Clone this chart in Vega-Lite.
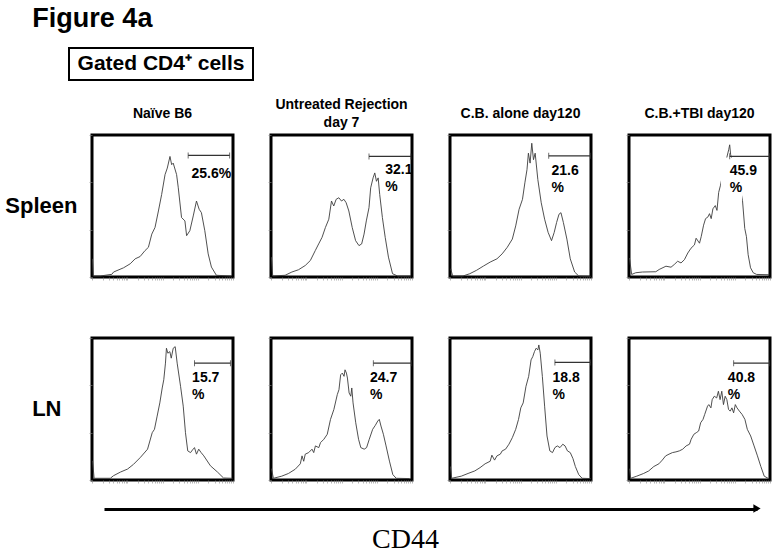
{
  "$schema": "https://vega.github.io/schema/vega-lite/v6.json",
  "background": "white",
  "padding": 5,
  "config": {"view": {"stroke": null}, "font": "Liberation Sans"},
  "title": {"text": "Figure 4a", "anchor": "start", "fontSize": 27, "fontWeight": "bold", "font": "Liberation Sans", "color": "black", "dx": 27, "offset": 14},
  "spacing": 17,
  "vconcat": [
    {"width": 184, "height": 32, "view": {"stroke": "black", "strokeWidth": 2},
     "data": {"values": [{"lab": "Gated CD4⁺ cells"}]},
     "mark": {"type": "text", "fontSize": 21, "fontWeight": "bold", "font": "Liberation Sans", "color": "black"},
     "encoding": {"text": {"field": "lab"}}},
    {
      "spacing": 0,
      "bounds": "flush",
      "hconcat": [
    {"width": 22.5, "height": 1, "data": {"values": [{}]}, "mark": {"type": "text", "text": ""}, "encoding": {}},
    {
      "data": {"values": [
        {"t":"Spleen","g":"Naïve B6","k":"c","x":0.3,"y":12.8},{"t":"Spleen","g":"Naïve B6","k":"c","x":0.9,"y":0.7},{"t":"Spleen","g":"Naïve B6","k":"c","x":5.9,"y":0.7},{"t":"Spleen","g":"Naïve B6","k":"c","x":14.1,"y":1.9},{"t":"Spleen","g":"Naïve B6","k":"c","x":15.3,"y":3.5},{"t":"Spleen","g":"Naïve B6","k":"c","x":22.4,"y":6.5},{"t":"Spleen","g":"Naïve B6","k":"c","x":27.1,"y":9.3},{"t":"Spleen","g":"Naïve B6","k":"c","x":30.6,"y":12.8},{"t":"Spleen","g":"Naïve B6","k":"c","x":34.1,"y":14.4},{"t":"Spleen","g":"Naïve B6","k":"c","x":37.6,"y":18.6},{"t":"Spleen","g":"Naïve B6","k":"c","x":40,"y":20.9},{"t":"Spleen","g":"Naïve B6","k":"c","x":42.4,"y":30.2},{"t":"Spleen","g":"Naïve B6","k":"c","x":44.7,"y":34.9},{"t":"Spleen","g":"Naïve B6","k":"c","x":47.1,"y":46.5},{"t":"Spleen","g":"Naïve B6","k":"c","x":49.4,"y":58.1},{"t":"Spleen","g":"Naïve B6","k":"c","x":51.8,"y":72.1},{"t":"Spleen","g":"Naïve B6","k":"c","x":53.4,"y":76.7},{"t":"Spleen","g":"Naïve B6","k":"c","x":55.3,"y":84.9},{"t":"Spleen","g":"Naïve B6","k":"c","x":56.5,"y":79.1},{"t":"Spleen","g":"Naïve B6","k":"c","x":57.6,"y":80.2},{"t":"Spleen","g":"Naïve B6","k":"c","x":60,"y":72.1},{"t":"Spleen","g":"Naïve B6","k":"c","x":61.2,"y":62.8},{"t":"Spleen","g":"Naïve B6","k":"c","x":63.5,"y":41.9},{"t":"Spleen","g":"Naïve B6","k":"c","x":65.9,"y":39.5},{"t":"Spleen","g":"Naïve B6","k":"c","x":67.1,"y":29.1},{"t":"Spleen","g":"Naïve B6","k":"c","x":69.4,"y":32.6},{"t":"Spleen","g":"Naïve B6","k":"c","x":71.8,"y":43},{"t":"Spleen","g":"Naïve B6","k":"c","x":74.1,"y":53.5},{"t":"Spleen","g":"Naïve B6","k":"c","x":76,"y":47.7},{"t":"Spleen","g":"Naïve B6","k":"c","x":77.6,"y":45.3},{"t":"Spleen","g":"Naïve B6","k":"c","x":80,"y":32.6},{"t":"Spleen","g":"Naïve B6","k":"c","x":82.4,"y":16.3},{"t":"Spleen","g":"Naïve B6","k":"c","x":84.7,"y":7},{"t":"Spleen","g":"Naïve B6","k":"c","x":88.2,"y":1.2},{"t":"Spleen","g":"Naïve B6","k":"c","x":98.8,"y":0.7},
        {"t":"Spleen","g":"Untreated Rejection day 7","k":"c","x":0.3,"y":14},{"t":"Spleen","g":"Untreated Rejection day 7","k":"c","x":1.2,"y":0.7},{"t":"Spleen","g":"Untreated Rejection day 7","k":"c","x":10,"y":1.2},{"t":"Spleen","g":"Untreated Rejection day 7","k":"c","x":14.8,"y":3.5},{"t":"Spleen","g":"Untreated Rejection day 7","k":"c","x":19.5,"y":5.1},{"t":"Spleen","g":"Untreated Rejection day 7","k":"c","x":24.3,"y":8.1},{"t":"Spleen","g":"Untreated Rejection day 7","k":"c","x":27.9,"y":11.6},{"t":"Spleen","g":"Untreated Rejection day 7","k":"c","x":31.4,"y":18.6},{"t":"Spleen","g":"Untreated Rejection day 7","k":"c","x":33.8,"y":23.3},{"t":"Spleen","g":"Untreated Rejection day 7","k":"c","x":36.2,"y":27.9},{"t":"Spleen","g":"Untreated Rejection day 7","k":"c","x":38.6,"y":34.9},{"t":"Spleen","g":"Untreated Rejection day 7","k":"c","x":41,"y":40.7},{"t":"Spleen","g":"Untreated Rejection day 7","k":"c","x":42.9,"y":53.5},{"t":"Spleen","g":"Untreated Rejection day 7","k":"c","x":44.5,"y":50},{"t":"Spleen","g":"Untreated Rejection day 7","k":"c","x":46.2,"y":54.7},{"t":"Spleen","g":"Untreated Rejection day 7","k":"c","x":48.1,"y":55.8},{"t":"Spleen","g":"Untreated Rejection day 7","k":"c","x":50,"y":53.5},{"t":"Spleen","g":"Untreated Rejection day 7","k":"c","x":51.7,"y":54.7},{"t":"Spleen","g":"Untreated Rejection day 7","k":"c","x":53.3,"y":52.3},{"t":"Spleen","g":"Untreated Rejection day 7","k":"c","x":55.2,"y":46.5},{"t":"Spleen","g":"Untreated Rejection day 7","k":"c","x":57.6,"y":34.9},{"t":"Spleen","g":"Untreated Rejection day 7","k":"c","x":60,"y":25.6},{"t":"Spleen","g":"Untreated Rejection day 7","k":"c","x":62.4,"y":22.1},{"t":"Spleen","g":"Untreated Rejection day 7","k":"c","x":64.3,"y":23.3},{"t":"Spleen","g":"Untreated Rejection day 7","k":"c","x":66,"y":30.2},{"t":"Spleen","g":"Untreated Rejection day 7","k":"c","x":67.6,"y":39.5},{"t":"Spleen","g":"Untreated Rejection day 7","k":"c","x":69.5,"y":48.8},{"t":"Spleen","g":"Untreated Rejection day 7","k":"c","x":70.7,"y":62.8},{"t":"Spleen","g":"Untreated Rejection day 7","k":"c","x":72.4,"y":69.8},{"t":"Spleen","g":"Untreated Rejection day 7","k":"c","x":73.6,"y":73.3},{"t":"Spleen","g":"Untreated Rejection day 7","k":"c","x":74.8,"y":67.4},{"t":"Spleen","g":"Untreated Rejection day 7","k":"c","x":76,"y":69.8},{"t":"Spleen","g":"Untreated Rejection day 7","k":"c","x":77.1,"y":58.1},{"t":"Spleen","g":"Untreated Rejection day 7","k":"c","x":79,"y":41.9},{"t":"Spleen","g":"Untreated Rejection day 7","k":"c","x":81,"y":27.9},{"t":"Spleen","g":"Untreated Rejection day 7","k":"c","x":83.3,"y":14},{"t":"Spleen","g":"Untreated Rejection day 7","k":"c","x":86.2,"y":2.3},{"t":"Spleen","g":"Untreated Rejection day 7","k":"c","x":89.8,"y":0.7},{"t":"Spleen","g":"Untreated Rejection day 7","k":"c","x":99.3,"y":0.7},
        {"t":"Spleen","g":"C.B. alone day120","k":"c","x":0.5,"y":5.8},{"t":"Spleen","g":"C.B. alone day120","k":"c","x":1.9,"y":0.7},{"t":"Spleen","g":"C.B. alone day120","k":"c","x":9.2,"y":0.7},{"t":"Spleen","g":"C.B. alone day120","k":"c","x":14,"y":2.3},{"t":"Spleen","g":"C.B. alone day120","k":"c","x":18.8,"y":4.7},{"t":"Spleen","g":"C.B. alone day120","k":"c","x":23.7,"y":7.7},{"t":"Spleen","g":"C.B. alone day120","k":"c","x":28.5,"y":10.5},{"t":"Spleen","g":"C.B. alone day120","k":"c","x":33.3,"y":12.8},{"t":"Spleen","g":"C.B. alone day120","k":"c","x":37,"y":16.3},{"t":"Spleen","g":"C.B. alone day120","k":"c","x":40.6,"y":20.9},{"t":"Spleen","g":"C.B. alone day120","k":"c","x":44.2,"y":26.7},{"t":"Spleen","g":"C.B. alone day120","k":"c","x":46.6,"y":36},{"t":"Spleen","g":"C.B. alone day120","k":"c","x":49,"y":47.7},{"t":"Spleen","g":"C.B. alone day120","k":"c","x":51.4,"y":54.7},{"t":"Spleen","g":"C.B. alone day120","k":"c","x":53.1,"y":66.3},{"t":"Spleen","g":"C.B. alone day120","k":"c","x":54.6,"y":75.6},{"t":"Spleen","g":"C.B. alone day120","k":"c","x":55.6,"y":87.2},{"t":"Spleen","g":"C.B. alone day120","k":"c","x":56.8,"y":80.2},{"t":"Spleen","g":"C.B. alone day120","k":"c","x":58,"y":94.2},{"t":"Spleen","g":"C.B. alone day120","k":"c","x":59.2,"y":82.6},{"t":"Spleen","g":"C.B. alone day120","k":"c","x":60.4,"y":87.2},{"t":"Spleen","g":"C.B. alone day120","k":"c","x":62.3,"y":68.6},{"t":"Spleen","g":"C.B. alone day120","k":"c","x":64.7,"y":52.3},{"t":"Spleen","g":"C.B. alone day120","k":"c","x":67.1,"y":40.7},{"t":"Spleen","g":"C.B. alone day120","k":"c","x":69.6,"y":31.4},{"t":"Spleen","g":"C.B. alone day120","k":"c","x":72,"y":25.6},{"t":"Spleen","g":"C.B. alone day120","k":"c","x":73.9,"y":31.4},{"t":"Spleen","g":"C.B. alone day120","k":"c","x":75.6,"y":38.4},{"t":"Spleen","g":"C.B. alone day120","k":"c","x":77.3,"y":44.2},{"t":"Spleen","g":"C.B. alone day120","k":"c","x":78.7,"y":45.3},{"t":"Spleen","g":"C.B. alone day120","k":"c","x":80.4,"y":38.4},{"t":"Spleen","g":"C.B. alone day120","k":"c","x":82.9,"y":26.7},{"t":"Spleen","g":"C.B. alone day120","k":"c","x":85.3,"y":12.8},{"t":"Spleen","g":"C.B. alone day120","k":"c","x":88.4,"y":3.5},{"t":"Spleen","g":"C.B. alone day120","k":"c","x":91.3,"y":0.7},{"t":"Spleen","g":"C.B. alone day120","k":"c","x":99.8,"y":0.5},
        {"t":"Spleen","g":"C.B.+TBI day120","k":"c","x":0.3,"y":13.4},{"t":"Spleen","g":"C.B.+TBI day120","k":"c","x":1.9,"y":1.8},{"t":"Spleen","g":"C.B.+TBI day120","k":"c","x":4.8,"y":3},{"t":"Spleen","g":"C.B.+TBI day120","k":"c","x":9.5,"y":3.5},{"t":"Spleen","g":"C.B.+TBI day120","k":"c","x":19,"y":3.7},{"t":"Spleen","g":"C.B.+TBI day120","k":"c","x":21.4,"y":5.3},{"t":"Spleen","g":"C.B.+TBI day120","k":"c","x":26.2,"y":7.6},{"t":"Spleen","g":"C.B.+TBI day120","k":"c","x":29.8,"y":6.9},{"t":"Spleen","g":"C.B.+TBI day120","k":"c","x":32.1,"y":8.8},{"t":"Spleen","g":"C.B.+TBI day120","k":"c","x":34.5,"y":11.1},{"t":"Spleen","g":"C.B.+TBI day120","k":"c","x":36.9,"y":9.9},{"t":"Spleen","g":"C.B.+TBI day120","k":"c","x":39.3,"y":12.2},{"t":"Spleen","g":"C.B.+TBI day120","k":"c","x":41.7,"y":16.9},{"t":"Spleen","g":"C.B.+TBI day120","k":"c","x":44,"y":20.3},{"t":"Spleen","g":"C.B.+TBI day120","k":"c","x":46.4,"y":22.6},{"t":"Spleen","g":"C.B.+TBI day120","k":"c","x":47.6,"y":27.3},{"t":"Spleen","g":"C.B.+TBI day120","k":"c","x":50,"y":23.8},{"t":"Spleen","g":"C.B.+TBI day120","k":"c","x":51.2,"y":28.4},{"t":"Spleen","g":"C.B.+TBI day120","k":"c","x":52.9,"y":36.5},{"t":"Spleen","g":"C.B.+TBI day120","k":"c","x":54.3,"y":41.1},{"t":"Spleen","g":"C.B.+TBI day120","k":"c","x":56,"y":42.3},{"t":"Spleen","g":"C.B.+TBI day120","k":"c","x":57.1,"y":44.6},{"t":"Spleen","g":"C.B.+TBI day120","k":"c","x":58.3,"y":41.1},{"t":"Spleen","g":"C.B.+TBI day120","k":"c","x":59.5,"y":48},{"t":"Spleen","g":"C.B.+TBI day120","k":"c","x":61.2,"y":50.3},{"t":"Spleen","g":"C.B.+TBI day120","k":"c","x":62.4,"y":46.9},{"t":"Spleen","g":"C.B.+TBI day120","k":"c","x":63.6,"y":59.6},{"t":"Spleen","g":"C.B.+TBI day120","k":"c","x":64.8,"y":64.2},{"t":"Spleen","g":"C.B.+TBI day120","k":"c","x":66.7,"y":73.4},{"t":"Spleen","g":"C.B.+TBI day120","k":"c","x":69,"y":82.7},{"t":"Spleen","g":"C.B.+TBI day120","k":"c","x":70.7,"y":89.6},{"t":"Spleen","g":"C.B.+TBI day120","k":"c","x":71.4,"y":93.1},{"t":"Spleen","g":"C.B.+TBI day120","k":"c","x":72.1,"y":86.1},{"t":"Spleen","g":"C.B.+TBI day120","k":"c","x":73.8,"y":80.4},{"t":"Spleen","g":"C.B.+TBI day120","k":"c","x":76.2,"y":73.4},{"t":"Spleen","g":"C.B.+TBI day120","k":"c","x":78.6,"y":64.2},{"t":"Spleen","g":"C.B.+TBI day120","k":"c","x":80.5,"y":53.8},{"t":"Spleen","g":"C.B.+TBI day120","k":"c","x":82.1,"y":34.2},{"t":"Spleen","g":"C.B.+TBI day120","k":"c","x":83.3,"y":28.4},{"t":"Spleen","g":"C.B.+TBI day120","k":"c","x":84.5,"y":15.7},{"t":"Spleen","g":"C.B.+TBI day120","k":"c","x":86.2,"y":6.5},{"t":"Spleen","g":"C.B.+TBI day120","k":"c","x":88.1,"y":3},{"t":"Spleen","g":"C.B.+TBI day120","k":"c","x":90.5,"y":1.8},{"t":"Spleen","g":"C.B.+TBI day120","k":"c","x":99.5,"y":1.6},
        {"t":"LN","g":"Naïve B6","k":"c","x":0.4,"y":13.5},{"t":"LN","g":"Naïve B6","k":"c","x":1.5,"y":1.2},{"t":"LN","g":"Naïve B6","k":"c","x":13,"y":1.2},{"t":"LN","g":"Naïve B6","k":"c","x":15.2,"y":3},{"t":"LN","g":"Naïve B6","k":"c","x":20.2,"y":5.6},{"t":"LN","g":"Naïve B6","k":"c","x":25.2,"y":7.7},{"t":"LN","g":"Naïve B6","k":"c","x":29.4,"y":11},{"t":"LN","g":"Naïve B6","k":"c","x":34.4,"y":16},{"t":"LN","g":"Naïve B6","k":"c","x":39.4,"y":21.7},{"t":"LN","g":"Naïve B6","k":"c","x":42.7,"y":33.3},{"t":"LN","g":"Naïve B6","k":"c","x":44.3,"y":35.7},{"t":"LN","g":"Naïve B6","k":"c","x":46.2,"y":45},{"t":"LN","g":"Naïve B6","k":"c","x":48.1,"y":54.3},{"t":"LN","g":"Naïve B6","k":"c","x":49.8,"y":64.8},{"t":"LN","g":"Naïve B6","k":"c","x":50.9,"y":70.6},{"t":"LN","g":"Naïve B6","k":"c","x":52.1,"y":82.3},{"t":"LN","g":"Naïve B6","k":"c","x":52.8,"y":92.8},{"t":"LN","g":"Naïve B6","k":"c","x":53.8,"y":89.3},{"t":"LN","g":"Naïve B6","k":"c","x":55.2,"y":90.4},{"t":"LN","g":"Naïve B6","k":"c","x":56.2,"y":85.8},{"t":"LN","g":"Naïve B6","k":"c","x":57.6,"y":92.8},{"t":"LN","g":"Naïve B6","k":"c","x":59,"y":93.9},{"t":"LN","g":"Naïve B6","k":"c","x":60.4,"y":82.3},{"t":"LN","g":"Naïve B6","k":"c","x":62.8,"y":66},{"t":"LN","g":"Naïve B6","k":"c","x":64.7,"y":52},{"t":"LN","g":"Naïve B6","k":"c","x":66.3,"y":33.3},{"t":"LN","g":"Naïve B6","k":"c","x":67.9,"y":20.5},{"t":"LN","g":"Naïve B6","k":"c","x":69.9,"y":19.3},{"t":"LN","g":"Naïve B6","k":"c","x":71.3,"y":21.2},{"t":"LN","g":"Naïve B6","k":"c","x":72.7,"y":22.8},{"t":"LN","g":"Naïve B6","k":"c","x":74.1,"y":18.2},{"t":"LN","g":"Naïve B6","k":"c","x":75.7,"y":21.7},{"t":"LN","g":"Naïve B6","k":"c","x":77.4,"y":19.3},{"t":"LN","g":"Naïve B6","k":"c","x":79.3,"y":17},{"t":"LN","g":"Naïve B6","k":"c","x":84,"y":10},{"t":"LN","g":"Naïve B6","k":"c","x":89,"y":5.6},{"t":"LN","g":"Naïve B6","k":"c","x":93.3,"y":1.4},{"t":"LN","g":"Naïve B6","k":"c","x":99.6,"y":1.2},
        {"t":"LN","g":"Untreated Rejection day 7","k":"c","x":0.3,"y":8},{"t":"LN","g":"Untreated Rejection day 7","k":"c","x":1.7,"y":1.2},{"t":"LN","g":"Untreated Rejection day 7","k":"c","x":7.6,"y":2.7},{"t":"LN","g":"Untreated Rejection day 7","k":"c","x":12.4,"y":4.6},{"t":"LN","g":"Untreated Rejection day 7","k":"c","x":17.2,"y":7.6},{"t":"LN","g":"Untreated Rejection day 7","k":"c","x":20.8,"y":11.4},{"t":"LN","g":"Untreated Rejection day 7","k":"c","x":22,"y":17},{"t":"LN","g":"Untreated Rejection day 7","k":"c","x":23.2,"y":13.2},{"t":"LN","g":"Untreated Rejection day 7","k":"c","x":24.3,"y":18.2},{"t":"LN","g":"Untreated Rejection day 7","k":"c","x":26.7,"y":19.3},{"t":"LN","g":"Untreated Rejection day 7","k":"c","x":29.1,"y":21.7},{"t":"LN","g":"Untreated Rejection day 7","k":"c","x":30.3,"y":19.3},{"t":"LN","g":"Untreated Rejection day 7","k":"c","x":31.5,"y":24},{"t":"LN","g":"Untreated Rejection day 7","k":"c","x":33.9,"y":22.8},{"t":"LN","g":"Untreated Rejection day 7","k":"c","x":35.1,"y":26.3},{"t":"LN","g":"Untreated Rejection day 7","k":"c","x":37.5,"y":28.7},{"t":"LN","g":"Untreated Rejection day 7","k":"c","x":39.9,"y":32.2},{"t":"LN","g":"Untreated Rejection day 7","k":"c","x":42.2,"y":42.7},{"t":"LN","g":"Untreated Rejection day 7","k":"c","x":44.6,"y":49.7},{"t":"LN","g":"Untreated Rejection day 7","k":"c","x":47,"y":60.1},{"t":"LN","g":"Untreated Rejection day 7","k":"c","x":48.2,"y":63.6},{"t":"LN","g":"Untreated Rejection day 7","k":"c","x":49.4,"y":74.1},{"t":"LN","g":"Untreated Rejection day 7","k":"c","x":50.6,"y":75.3},{"t":"LN","g":"Untreated Rejection day 7","k":"c","x":51.8,"y":73},{"t":"LN","g":"Untreated Rejection day 7","k":"c","x":52.5,"y":77.6},{"t":"LN","g":"Untreated Rejection day 7","k":"c","x":53.5,"y":75.3},{"t":"LN","g":"Untreated Rejection day 7","k":"c","x":54.2,"y":71.8},{"t":"LN","g":"Untreated Rejection day 7","k":"c","x":55.4,"y":61.3},{"t":"LN","g":"Untreated Rejection day 7","k":"c","x":56.6,"y":59},{"t":"LN","g":"Untreated Rejection day 7","k":"c","x":57.3,"y":64.8},{"t":"LN","g":"Untreated Rejection day 7","k":"c","x":58.2,"y":54.3},{"t":"LN","g":"Untreated Rejection day 7","k":"c","x":60.1,"y":40.3},{"t":"LN","g":"Untreated Rejection day 7","k":"c","x":62.1,"y":28.7},{"t":"LN","g":"Untreated Rejection day 7","k":"c","x":63.7,"y":22.8},{"t":"LN","g":"Untreated Rejection day 7","k":"c","x":66.1,"y":21.7},{"t":"LN","g":"Untreated Rejection day 7","k":"c","x":67.8,"y":22.8},{"t":"LN","g":"Untreated Rejection day 7","k":"c","x":69.7,"y":28.7},{"t":"LN","g":"Untreated Rejection day 7","k":"c","x":72.1,"y":35.7},{"t":"LN","g":"Untreated Rejection day 7","k":"c","x":74,"y":38.5},{"t":"LN","g":"Untreated Rejection day 7","k":"c","x":75.7,"y":41.5},{"t":"LN","g":"Untreated Rejection day 7","k":"c","x":76.8,"y":42.7},{"t":"LN","g":"Untreated Rejection day 7","k":"c","x":78,"y":38},{"t":"LN","g":"Untreated Rejection day 7","k":"c","x":79.7,"y":32.2},{"t":"LN","g":"Untreated Rejection day 7","k":"c","x":81.6,"y":24},{"t":"LN","g":"Untreated Rejection day 7","k":"c","x":84,"y":13.3},{"t":"LN","g":"Untreated Rejection day 7","k":"c","x":86.4,"y":3.8},{"t":"LN","g":"Untreated Rejection day 7","k":"c","x":88.8,"y":1.2},{"t":"LN","g":"Untreated Rejection day 7","k":"c","x":98.3,"y":1},
        {"t":"LN","g":"C.B. alone day120","k":"c","x":0.3,"y":9.5},{"t":"LN","g":"C.B. alone day120","k":"c","x":1.2,"y":1.2},{"t":"LN","g":"C.B. alone day120","k":"c","x":8,"y":2.7},{"t":"LN","g":"C.B. alone day120","k":"c","x":12.8,"y":4.6},{"t":"LN","g":"C.B. alone day120","k":"c","x":17.6,"y":6.4},{"t":"LN","g":"C.B. alone day120","k":"c","x":21.3,"y":8.7},{"t":"LN","g":"C.B. alone day120","k":"c","x":24.9,"y":11.4},{"t":"LN","g":"C.B. alone day120","k":"c","x":28.5,"y":13.2},{"t":"LN","g":"C.B. alone day120","k":"c","x":29.7,"y":17.5},{"t":"LN","g":"C.B. alone day120","k":"c","x":31.6,"y":14},{"t":"LN","g":"C.B. alone day120","k":"c","x":33.3,"y":17},{"t":"LN","g":"C.B. alone day120","k":"c","x":35.7,"y":18.2},{"t":"LN","g":"C.B. alone day120","k":"c","x":37,"y":20.5},{"t":"LN","g":"C.B. alone day120","k":"c","x":39.4,"y":21.7},{"t":"LN","g":"C.B. alone day120","k":"c","x":41.8,"y":25.2},{"t":"LN","g":"C.B. alone day120","k":"c","x":44.2,"y":29.8},{"t":"LN","g":"C.B. alone day120","k":"c","x":46.6,"y":35.7},{"t":"LN","g":"C.B. alone day120","k":"c","x":48.6,"y":42.7},{"t":"LN","g":"C.B. alone day120","k":"c","x":50.2,"y":50.8},{"t":"LN","g":"C.B. alone day120","k":"c","x":51.9,"y":54.3},{"t":"LN","g":"C.B. alone day120","k":"c","x":53.9,"y":66},{"t":"LN","g":"C.B. alone day120","k":"c","x":55.8,"y":73},{"t":"LN","g":"C.B. alone day120","k":"c","x":57.5,"y":84.6},{"t":"LN","g":"C.B. alone day120","k":"c","x":58.7,"y":86.9},{"t":"LN","g":"C.B. alone day120","k":"c","x":59.9,"y":90.4},{"t":"LN","g":"C.B. alone day120","k":"c","x":61.1,"y":92.8},{"t":"LN","g":"C.B. alone day120","k":"c","x":62.3,"y":91.6},{"t":"LN","g":"C.B. alone day120","k":"c","x":63,"y":95.1},{"t":"LN","g":"C.B. alone day120","k":"c","x":64,"y":89.3},{"t":"LN","g":"C.B. alone day120","k":"c","x":65.5,"y":73},{"t":"LN","g":"C.B. alone day120","k":"c","x":67.1,"y":52},{"t":"LN","g":"C.B. alone day120","k":"c","x":68.8,"y":31},{"t":"LN","g":"C.B. alone day120","k":"c","x":70.8,"y":20.5},{"t":"LN","g":"C.B. alone day120","k":"c","x":72.7,"y":19.3},{"t":"LN","g":"C.B. alone day120","k":"c","x":74.4,"y":22.8},{"t":"LN","g":"C.B. alone day120","k":"c","x":76.1,"y":24},{"t":"LN","g":"C.B. alone day120","k":"c","x":78,"y":22.8},{"t":"LN","g":"C.B. alone day120","k":"c","x":80,"y":25.2},{"t":"LN","g":"C.B. alone day120","k":"c","x":81.6,"y":24},{"t":"LN","g":"C.B. alone day120","k":"c","x":83.3,"y":20.5},{"t":"LN","g":"C.B. alone day120","k":"c","x":85.3,"y":19.3},{"t":"LN","g":"C.B. alone day120","k":"c","x":87.2,"y":15.1},{"t":"LN","g":"C.B. alone day120","k":"c","x":88.9,"y":9.5},{"t":"LN","g":"C.B. alone day120","k":"c","x":91.3,"y":3.8},{"t":"LN","g":"C.B. alone day120","k":"c","x":93.7,"y":1.2},{"t":"LN","g":"C.B. alone day120","k":"c","x":99.8,"y":1},
        {"t":"LN","g":"C.B.+TBI day120","k":"c","x":0.3,"y":8},{"t":"LN","g":"C.B.+TBI day120","k":"c","x":1.2,"y":1.2},{"t":"LN","g":"C.B.+TBI day120","k":"c","x":5.5,"y":2.7},{"t":"LN","g":"C.B.+TBI day120","k":"c","x":10.4,"y":4.6},{"t":"LN","g":"C.B.+TBI day120","k":"c","x":14,"y":6.4},{"t":"LN","g":"C.B.+TBI day120","k":"c","x":17.6,"y":9.5},{"t":"LN","g":"C.B.+TBI day120","k":"c","x":21.2,"y":11.4},{"t":"LN","g":"C.B.+TBI day120","k":"c","x":23.6,"y":14},{"t":"LN","g":"C.B.+TBI day120","k":"c","x":26,"y":17},{"t":"LN","g":"C.B.+TBI day120","k":"c","x":28.4,"y":18.2},{"t":"LN","g":"C.B.+TBI day120","k":"c","x":30.8,"y":19.3},{"t":"LN","g":"C.B.+TBI day120","k":"c","x":33.3,"y":19.8},{"t":"LN","g":"C.B.+TBI day120","k":"c","x":35.7,"y":20.5},{"t":"LN","g":"C.B.+TBI day120","k":"c","x":38.1,"y":21.7},{"t":"LN","g":"C.B.+TBI day120","k":"c","x":40.5,"y":24},{"t":"LN","g":"C.B.+TBI day120","k":"c","x":42.9,"y":25.2},{"t":"LN","g":"C.B.+TBI day120","k":"c","x":44.1,"y":28.7},{"t":"LN","g":"C.B.+TBI day120","k":"c","x":46,"y":32.2},{"t":"LN","g":"C.B.+TBI day120","k":"c","x":47.7,"y":33.3},{"t":"LN","g":"C.B.+TBI day120","k":"c","x":49.4,"y":34.5},{"t":"LN","g":"C.B.+TBI day120","k":"c","x":50.8,"y":40.3},{"t":"LN","g":"C.B.+TBI day120","k":"c","x":52.5,"y":42.7},{"t":"LN","g":"C.B.+TBI day120","k":"c","x":53.7,"y":46.2},{"t":"LN","g":"C.B.+TBI day120","k":"c","x":55.7,"y":52},{"t":"LN","g":"C.B.+TBI day120","k":"c","x":56.6,"y":53.1},{"t":"LN","g":"C.B.+TBI day120","k":"c","x":58.1,"y":50.8},{"t":"LN","g":"C.B.+TBI day120","k":"c","x":59,"y":56.6},{"t":"LN","g":"C.B.+TBI day120","k":"c","x":60.5,"y":59},{"t":"LN","g":"C.B.+TBI day120","k":"c","x":62.2,"y":57.8},{"t":"LN","g":"C.B.+TBI day120","k":"c","x":63.4,"y":62.5},{"t":"LN","g":"C.B.+TBI day120","k":"c","x":64.6,"y":56.6},{"t":"LN","g":"C.B.+TBI day120","k":"c","x":65.8,"y":62.5},{"t":"LN","g":"C.B.+TBI day120","k":"c","x":67,"y":53.1},{"t":"LN","g":"C.B.+TBI day120","k":"c","x":68.2,"y":59},{"t":"LN","g":"C.B.+TBI day120","k":"c","x":69.4,"y":56.6},{"t":"LN","g":"C.B.+TBI day120","k":"c","x":70.6,"y":49.7},{"t":"LN","g":"C.B.+TBI day120","k":"c","x":71.8,"y":48.5},{"t":"LN","g":"C.B.+TBI day120","k":"c","x":73,"y":50.8},{"t":"LN","g":"C.B.+TBI day120","k":"c","x":74.2,"y":47.3},{"t":"LN","g":"C.B.+TBI day120","k":"c","x":75.4,"y":53.1},{"t":"LN","g":"C.B.+TBI day120","k":"c","x":76.6,"y":50.8},{"t":"LN","g":"C.B.+TBI day120","k":"c","x":78.3,"y":48.5},{"t":"LN","g":"C.B.+TBI day120","k":"c","x":80.2,"y":46.2},{"t":"LN","g":"C.B.+TBI day120","k":"c","x":82.2,"y":42.7},{"t":"LN","g":"C.B.+TBI day120","k":"c","x":83.9,"y":35.7},{"t":"LN","g":"C.B.+TBI day120","k":"c","x":86.3,"y":31},{"t":"LN","g":"C.B.+TBI day120","k":"c","x":88.7,"y":24},{"t":"LN","g":"C.B.+TBI day120","k":"c","x":91.1,"y":17},{"t":"LN","g":"C.B.+TBI day120","k":"c","x":93.5,"y":9.5},{"t":"LN","g":"C.B.+TBI day120","k":"c","x":95.9,"y":2.7},{"t":"LN","g":"C.B.+TBI day120","k":"c","x":99,"y":1},
        {"t":"Spleen","g":"C.B.+TBI day120","k":"m","mx0":65.2,"mx1":80.2,"my0":54,"my1":84.2},
        {"t":"Spleen","g":"Naïve B6","k":"g","g0":68.2,"g1":97.6,"gy":85.6,"lx":70.6,"ly":77.8,"lab":"25.6%"},
        {"t":"Spleen","g":"Untreated Rejection day 7","k":"g","g0":69.5,"g1":99.3,"gy":84.9,"lx":81,"ly":80.5,"lab":"32.1\n%"},
        {"t":"Spleen","g":"C.B. alone day120","k":"g","g0":70,"g1":99.6,"gy":85.3,"lx":72,"ly":79.4,"lab":"21.6\n%"},
        {"t":"Spleen","g":"C.B.+TBI day120","k":"g","g0":71.4,"g1":99.5,"gy":85,"lx":71.4,"ly":79.5,"lab":"45.9\n%"},
        {"t":"LN","g":"Naïve B6","k":"g","g0":72.7,"g1":98.2,"gy":82.3,"lx":71,"ly":76.8,"lab":"15.7\n%"},
        {"t":"LN","g":"Untreated Rejection day 7","k":"g","g0":72.6,"g1":99.5,"gy":82.3,"lx":70.2,"ly":76.8,"lab":"24.7\n%"},
        {"t":"LN","g":"C.B. alone day120","k":"g","g0":74.4,"g1":99.7,"gy":82.8,"lx":72.7,"ly":76.8,"lab":"18.8\n%"},
        {"t":"LN","g":"C.B.+TBI day120","k":"g","g0":74.2,"g1":99.7,"gy":82.3,"lx":70.1,"ly":76.8,"lab":"40.8\n%"}
      ]},
      "facet": {
        "row": {"field": "t", "type": "nominal", "sort": ["Spleen", "LN"], "title": null,
          "header": {"labelAngle": 0, "labelOrient": "left", "labelAlign": "left", "labelFontSize": 22, "labelFontWeight": "bold", "labelFont": "Liberation Sans", "labelColor": "black", "labelPadding": 9.5, "labelExpr": "datum.value == 'LN' ? 'LN\u2800' : datum.value"}},
        "column": {"field": "g", "type": "nominal", "sort": ["Naïve B6", "Untreated Rejection day 7", "C.B. alone day120", "C.B.+TBI day120"], "title": null,
          "header": {"labelFontSize": 14, "labelFontWeight": "bold", "labelFont": "Liberation Sans", "labelColor": "black", "labelExpr": "datum.value == 'Untreated Rejection day 7' ? ['Untreated Rejection', '\u2800', 'day 7'] : [datum.value, '\u2800']", "labelPadding": 3, "labelLineHeight": 9}}
      },
      "spacing": {"row": 54, "column": 31},
      "resolve": {"axis": {"x": "independent", "y": "independent"}},
      "spec": {
        "width": 141,
        "height": 142,
        "view": {"stroke": "black", "strokeWidth": 3},
        "encoding": {
          "x": {"type": "quantitative", "scale": {"domain": [0, 100], "nice": false, "zero": false},
            "axis": {"title": null, "labels": false, "domain": false, "grid": false, "ticks": true, "tickSize": 3, "tickColor": "#888", "tickWidth": 0.6,
              "values": [0, 7.5, 12, 15, 17.4, 19.5, 21, 22.5, 23.8, 25, 32.5, 37, 40, 42.4, 44.5, 46, 47.5, 48.8, 50, 57.5, 62, 65, 67.4, 69.5, 71, 72.5, 73.8, 75, 82.5, 87, 90, 92.4, 94.5, 96, 97.5, 98.8, 100]}},
          "y": {"type": "quantitative", "scale": {"domain": [0, 100], "nice": false, "zero": false},
            "axis": {"title": null, "labels": false, "domain": false, "grid": false, "ticks": true, "tickSize": 3, "tickColor": "#888", "tickWidth": 0.6, "values": [0, 33.3, 66.7, 100]}}
        },
        "layer": [
          {"transform": [{"filter": "datum.k == 'c'"}],
           "mark": {"type": "line", "color": "#3c3c3c", "strokeWidth": 0.9, "clip": true},
           "encoding": {"x": {"field": "x"}, "y": {"field": "y"}}},
          {"transform": [{"filter": "datum.k == 'm'"}],
           "mark": {"type": "rect", "color": "white"},
           "encoding": {"x": {"field": "mx0"}, "x2": {"field": "mx1"}, "y": {"field": "my0"}, "y2": {"field": "my1"}}},
          {"transform": [{"filter": "datum.k == 'g'"}],
           "mark": {"type": "rule", "color": "#333", "strokeWidth": 1.2},
           "encoding": {"x": {"field": "g0"}, "x2": {"field": "g1"}, "y": {"field": "gy"}}},
          {"transform": [{"filter": "datum.k == 'g'"}],
           "mark": {"type": "tick", "orient": "vertical", "color": "#333", "size": 6, "thickness": 1},
           "encoding": {"x": {"field": "g0"}, "y": {"field": "gy"}}},
          {"transform": [{"filter": "datum.k == 'g'"}],
           "mark": {"type": "tick", "orient": "vertical", "color": "#333", "size": 6, "thickness": 1},
           "encoding": {"x": {"field": "g1"}, "y": {"field": "gy"}}},
          {"transform": [{"filter": "datum.k == 'g'"}],
           "mark": {"type": "text", "align": "left", "baseline": "top", "fontSize": 14, "fontWeight": "bold", "font": "Liberation Sans", "color": "black", "lineBreak": "\n", "lineHeight": 17},
           "encoding": {"x": {"field": "lx"}, "y": {"field": "ly"}, "text": {"field": "lab"}}}
        ]
      }
    }
      ]
    },
    {
      "spacing": 0,
      "hconcat": [
        {"width": 35, "height": 1, "data": {"values": [{}]}, "mark": {"type": "text", "text": ""}, "encoding": {}},
        {"width": 653, "height": 1,
         "data": {"values": [{"x": 1}]},
         "mark": {"type": "point", "shape": "triangle-right", "filled": true, "color": "black", "size": 70, "opacity": 1},
         "encoding": {"x": {"field": "x", "type": "quantitative", "scale": {"domain": [0, 1], "nice": false, "zero": false},
           "axis": {"title": "CD44", "titleFont": "Liberation Serif", "titleFontSize": 28, "titleFontWeight": "normal", "titleColor": "black", "titlePadding": 16, "titleX": 301, "domainColor": "black", "domainWidth": 3, "ticks": false, "labels": false, "grid": false}}}}
      ]
    }
  ]
}
